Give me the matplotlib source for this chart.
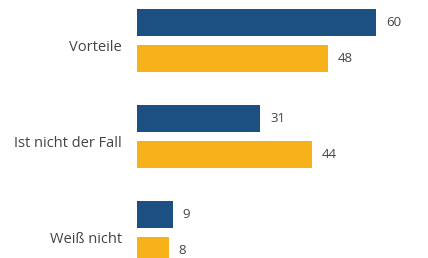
import matplotlib.pyplot as plt
import numpy as np

categories = ['Vorteile', 'Ist nicht der Fall', 'Weiß nicht']
series_a = [60, 31, 9]   # blue
series_b = [48, 44, 8]   # orange

blue = '#1c4f82'
orange = '#f8b219'
text_color = '#444444'

plt.rcParams['font.family'] = ['Open Sans', 'DejaVu Sans']

fig = plt.figure(figsize=(4.28, 2.58), dpi=100)
ax = fig.add_axes([137 / 428, 0, 291 / 428, 1])

y = np.arange(len(categories))
h = 0.28
off = 0.1875

ax.barh(y - off, series_a, height=h, color=blue)
ax.barh(y + off, series_b, height=h, color=orange)

for yi, a, b in zip(y, series_a, series_b):
    ax.text(a + 2.5, yi - off, str(a), va='center', ha='left', fontsize=9.5, color=text_color)
    ax.text(b + 2.5, yi + off, str(b), va='center', ha='left', fontsize=9.5, color=text_color)

ax.set_xlim(0, 73.1)
ax.set_ylim(2.266, -0.422)
ax.set_yticks(y + 0.05)
ax.set_yticklabels(categories, fontsize=10.5, color=text_color)
ax.tick_params(axis='y', length=0, pad=11)
ax.set_xticks([])
for s in ax.spines.values():
    s.set_visible(False)

fig.savefig('out.png', dpi=100)
